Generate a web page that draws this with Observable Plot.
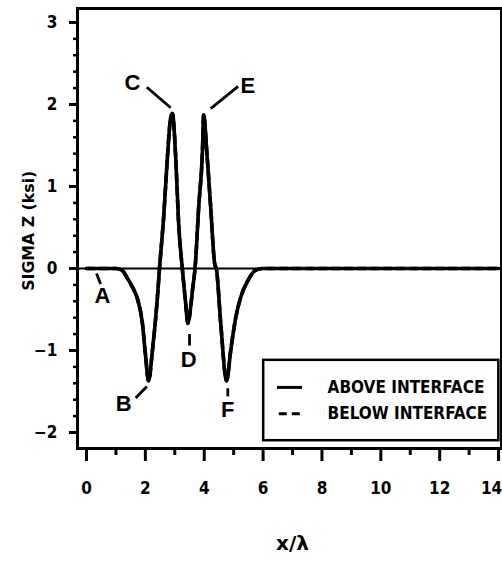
<!DOCTYPE html>
<html><head><meta charset="utf-8">
<script src="https://cdn.jsdelivr.net/npm/d3@7"></script>
<script src="https://cdn.jsdelivr.net/npm/@observablehq/plot@0.6"></script>
<style>
body{margin:0;background:#fff;}
</style>
</head><body><div id="chart"></div>
<script>
// x/λ positions and SIGMA Z (ksi) readings
const xPos = [0, 0.5, 1.0, 1.2, 1.39, 1.55, 1.73, 1.9, 2.0, 2.11, 2.24, 2.41, 2.48, 2.62, 2.75, 2.86, 2.92, 3.03, 3.13, 3.26, 3.37, 3.44, 3.6, 3.7, 3.81, 3.94, 3.98, 4.1, 4.22, 4.35, 4.42, 4.56, 4.76, 4.9, 5.07, 5.24, 5.48, 5.75, 6.0, 8, 10, 12, 14];
const sigmaAbove = [0, 0, 0, -0.02, -0.12, -0.22, -0.37, -0.67, -1.04, -1.37, -1.0, -0.35, 0.0, 0.62, 1.36, 1.84, 1.89, 1.36, 0.55, -0.02, -0.43, -0.67, -0.27, 0.06, 0.74, 1.44, 1.87, 1.36, 0.74, 0.07, -0.02, -0.67, -1.37, -1.0, -0.6, -0.35, -0.15, -0.02, 0, 0, 0, 0, 0];
const sigmaBelow = [0, 0, 0, -0.02, -0.12, -0.22, -0.37, -0.67, -1.04, -1.37, -1.0, -0.35, 0.0, 0.62, 1.36, 1.84, 1.89, 1.36, 0.55, -0.02, -0.43, -0.67, -0.27, 0.06, 0.74, 1.44, 1.87, 1.36, 0.74, 0.07, -0.02, -0.67, -1.37, -1.0, -0.6, -0.35, -0.15, -0.02, 0, 0, 0, 0, 0];
const xTicksMajor = [0, 2, 4, 6, 8, 10, 12, 14];
const xTicksMinor = [1, 3, 5, 7, 9, 11, 13];
const yTicksMajor = [-2, -1, 0, 1, 2, 3];
const yTicksMinor = [-1.8, -1.6, -1.4, -1.2, -0.8, -0.6, -0.4, -0.2, 0.2, 0.4, 0.6, 0.8, 1.2, 1.4, 1.6, 1.8, 2.2, 2.4, 2.6, 2.8];
const pointLabels = ["A", "B", "C", "D", "E", "F"];
const seriesNames = ["ABOVE INTERFACE", "BELOW INTERFACE"];
const yTitle = "SIGMA Z (ksi)";
const xTitle = "x/λ";

// layout of annotations (data coordinates)
const labelPos = [
  {x: 0.54, y: -0.33, lx1: 0.34, ly1: -0.06, lx2: 0.48, ly2: -0.19},
  {x: 1.26, y: -1.65, lx1: 1.67, ly1: -1.58, lx2: 2.05, ly2: -1.44},
  {x: 1.56, y: 2.26, lx1: 2.05, ly1: 2.21, lx2: 2.86, ly2: 1.96},
  {x: 3.47, y: -1.12, lx1: 3.5, ly1: -0.8, lx2: 3.5, ly2: -0.94},
  {x: 5.48, y: 2.23, lx1: 4.22, ly1: 1.95, lx2: 5.15, ly2: 2.22},
  {x: 4.8, y: -1.72, lx1: 4.8, ly1: -1.46, lx2: 4.8, ly2: -1.56}
];
const labels = pointLabels.map((t, i) => ({t, ...labelPos[i]}));

const curve = xPos.map((x, i) => ({x, above: sigmaAbove[i], below: sigmaBelow[i]}));
const narrow = '"DejaVu Sans Condensed","DejaVu Sans",sans-serif';
const fmt = d => d < 0 ? "\u2212" + (-d) : String(d);
const lastX = xTicksMajor[xTicksMajor.length - 1];

const chart = Plot.plot({
  width: 502, height: 561,
  marginLeft: 77, marginRight: 1, marginTop: 8, marginBottom: 113,
  x: {domain: [-0.306, 14.1]},
  y: {domain: [-2.195, 3.17]},
  style: {fontFamily: narrow, fontWeight: "bold", background: "white", color: "black", overflow: "visible"},
  marks: [
    Plot.ruleY([0], {strokeWidth: 2.2}),
    Plot.line(curve, {x: "x", y: "below", stroke: "black", strokeWidth: 3.6, strokeDasharray: "8,5", curve: "monotone-x"}),
    Plot.line(curve, {x: "x", y: "above", stroke: "black", strokeWidth: 3.6, curve: "monotone-x"}),
    Plot.link(labels, {x1: "lx1", y1: "ly1", x2: "lx2", y2: "ly2", strokeWidth: 2.8}),
    Plot.text(labels, {x: "x", y: "y", text: "t", fontSize: 22, fontFamily: "Liberation Sans, Arial, sans-serif", fontWeight: "bold"}),
    // legend
    Plot.rect([0], {x1: 6.02, x2: 14.01, y1: -1.12, y2: -2.10, fill: "white", stroke: "black", strokeWidth: 2.5}),
    Plot.ruleY([-1.45], {x1: 6.49, x2: 7.34, strokeWidth: 3}),
    Plot.ruleY([-1.77], {x1: 6.55, x2: 7.34, strokeWidth: 3, strokeDasharray: "8,5"}),
    Plot.text(seriesNames, {x: 8.19, y: (d, i) => [-1.45, -1.77][i], text: d => d, textAnchor: "start", fontSize: 17, letterSpacing: "-0.3px"}),
    Plot.frame({strokeWidth: 3}),
    Plot.axisX(xTicksMajor, {tickSize: 13, tickPadding: 20, strokeWidth: 3, fontSize: 17, label: null, tickFormat: d => d === lastX ? "" : fmt(d)}),
    Plot.axisX([lastX], {tickSize: 0, tickPadding: 33, dx: -7, fontSize: 17, label: null, tickFormat: fmt}),
    Plot.axisX(xTicksMinor, {tickSize: 7, strokeWidth: 3, tickFormat: () => "", label: null}),
    Plot.axisY(yTicksMajor, {tickSize: 8, tickPadding: 12, strokeWidth: 3, fontSize: 17, label: null, tickFormat: fmt}),
    Plot.axisY(yTicksMinor, {tickSize: 4, strokeWidth: 2.5, tickFormat: () => "", label: null}),
    Plot.text([yTitle], {x: -1.97, y: 0.46, text: d => d, rotate: -90, fontSize: 16, className: "ytitle"}),
    Plot.text([xTitle], {x: 7.0, y: -3.35, text: d => d, fontSize: 20, fontFamily: "DejaVu Sans, sans-serif"})
  ]
});
d3.select(chart).selectAll(".ytitle text").attr("textLength", 120).attr("lengthAdjust", "spacingAndGlyphs");
document.getElementById("chart").appendChild(chart);
</script>
</body></html>
